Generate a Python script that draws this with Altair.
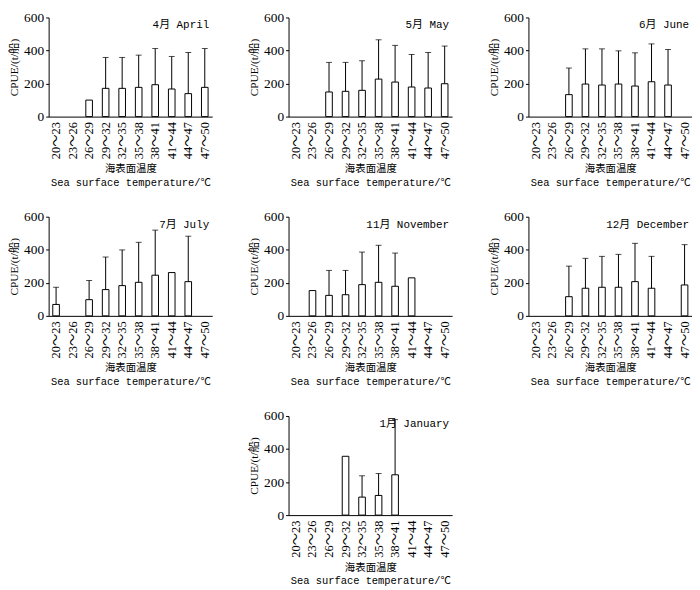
import altair as alt
import pandas as pd

# Sea surface temperature bins (x categories)
sst_bins = ["20～23", "23～26", "26～29", "29～32", "32～35",
            "35～38", "38～41", "41～44", "44～47", "47～50"]

N = None
# Mean CPUE (bar heights) and mean+SD (error bar tops) per month
apr_mean = [N, N, 100, 171, 171, 177, 193, 167, 139, 177]
apr_upper = [N, N, N, 358, 358, 372, 412, 364, 388, 412]

may_mean = [N, N, 149, 153, 159, 227, 209, 179, 173, 199]
may_upper = [N, N, 328, 328, 338, 465, 431, 376, 388, 427]

jun_mean = [N, N, 133, 197, 191, 197, 185, 211, 191, N]
jun_upper = [N, N, 294, 410, 410, 398, 386, 440, 406, N]

jul_mean = [69, N, 98, 159, 183, 203, 246, 262, 207, N]
jul_upper = [173, N, 214, 356, 399, 445, 519, N, 482, N]

nov_mean = [N, 153, 124, 128, 189, 203, 179, 230, N, N]
nov_upper = [N, N, 275, 275, 386, 427, 380, N, N, N]

dec_mean = [N, N, 116, 167, 173, 173, 207, 167, N, 187]
dec_upper = [N, N, 301, 348, 360, 372, 439, 360, N, 431]

jan_mean = [N, N, N, 356, 109, 119, 244, N, N, N]
jan_upper = [N, N, N, N, 238, 252, 578, N, N, N]

month_titles = ["4月 April", "5月 May", "6月 June", "7月 July",
                "11月 November", "12月 December", "1月 January"]
y_ticks = [0, 200, 400, 600]
x_title = ["海表面温度", "Sea surface temperature/℃"]
y_title = "CPUE/(t/船)"

W, H = 165, 100
SERIF = "Liberation Serif, Noto Sans CJK SC"
MONO = "Liberation Mono, Noto Sans CJK SC"

x_axis = alt.Axis(title=x_title, labelAngle=270, ticks=False,
                  labelFont=SERIF, labelFontSize=12.5, labelPadding=5,
                  labelOverlap=False,
                  titleFont=MONO, titleFontSize=10.5, titleFontWeight="normal",
                  titleLineHeight=14, titlePadding=5)
y_axis = alt.Axis(values=y_ticks, title=y_title, grid=False, tickSize=3,
                  labelFont=SERIF, labelFontSize=13.5, labelPadding=2,
                  labelOverlap=False,
                  titleFont=SERIF, titleFontSize=11.5, titleFontWeight="normal",
                  titlePadding=4)
x_scale = alt.Scale(domain=sst_bins, paddingInner=0.6, paddingOuter=0.25)
y_scale = alt.Scale(domain=[0, 600], nice=False)


def panel(title, means, uppers):
    df = pd.DataFrame({"sst": sst_bins, "cpue": means, "upper": uppers})
    base = alt.Chart(df)
    x = alt.X("sst:N", sort=sst_bins, scale=x_scale, axis=x_axis)
    bars = base.transform_filter("isValid(datum.cpue)").mark_bar(
        fill="white", stroke="black", strokeWidth=1
    ).encode(x=x, y=alt.Y("cpue:Q", scale=y_scale, axis=y_axis))
    err = base.transform_filter("isValid(datum.upper)").mark_rule(
        color="black", strokeWidth=1
    ).encode(x=x, y=alt.Y("cpue:Q", scale=y_scale, axis=y_axis), y2="upper:Q")
    cap = base.transform_filter("isValid(datum.upper)").mark_tick(
        color="black", thickness=1, size=6, orient="horizontal"
    ).encode(x=x, y=alt.Y("upper:Q", scale=y_scale, axis=y_axis))
    label = alt.Chart(pd.DataFrame({"t": [title]})).mark_text(
        align="right", baseline="middle", font=MONO, fontSize=11, color="black"
    ).encode(text="t:N", x=alt.value(W - 3), y=alt.value(8))
    return alt.layer(bars, err, cap, label).properties(width=W, height=H)


blank = alt.Chart(pd.DataFrame({"a": [0]})).mark_point(opacity=0).encode(
    x=alt.X("a:Q", axis=None), y=alt.Y("a:Q", axis=None)
).properties(width=W, height=H)

panels = [
    panel(month_titles[0], apr_mean, apr_upper),
    panel(month_titles[1], may_mean, may_upper),
    panel(month_titles[2], jun_mean, jun_upper),
    panel(month_titles[3], jul_mean, jul_upper),
    panel(month_titles[4], nov_mean, nov_upper),
    panel(month_titles[5], dec_mean, dec_upper),
    blank,
    panel(month_titles[6], jan_mean, jan_upper),
]

chart = alt.concat(*panels, columns=3).properties(
    spacing={"row": 21, "column": 36},
    padding={"top": 0, "left": 0, "right": 0, "bottom": 0},
    background="white",
).configure_view(stroke="transparent", strokeWidth=0).configure_axis(
    domainColor="black", tickColor="black", labelColor="black", titleColor="black"
)

chart.save("out.html", embed_options={"renderer": "svg", "actions": False})
